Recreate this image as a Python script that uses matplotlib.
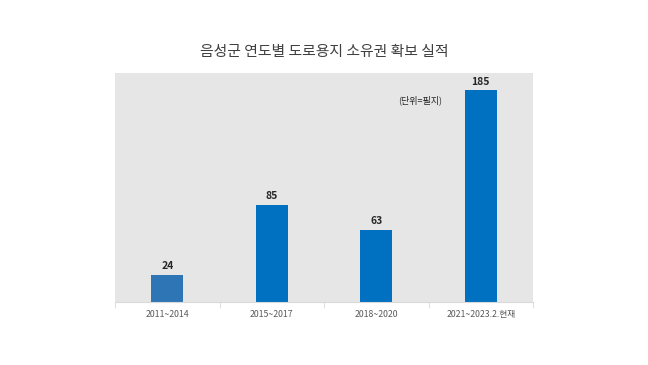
import matplotlib
matplotlib.use('Agg')
import matplotlib.pyplot as plt

plt.rcParams['font.family'] = ['Noto Sans CJK KR', 'DejaVu Sans']

# Data
periods = ['2011~2014', '2015~2017', '2018~2020', '2021~2023.2.현재']
parcels = [24, 85, 63, 185]
bar_colors = ['#2E75B6', '#0070C0', '#0070C0', '#0070C0']

title = '음성군 연도별 도로용지 소유권 확보 실적'
unit_note = '(단위=필지)'

fig = plt.figure(figsize=(6.48, 3.65), dpi=100)
fig.patch.set_facecolor('white')
ax = fig.add_axes([115 / 648, 1 - 302 / 365, 418 / 648, 229 / 365])
ax.set_facecolor('#E7E6E6')

x = range(len(periods))
bars = ax.bar(x, parcels, width=0.31, color=bar_colors, zorder=2)
# value labels above each bar
for b, v in zip(bars, parcels):
    ax.text(b.get_x() + b.get_width() / 2, v + 3, str(v), ha='center', va='bottom',
            fontsize=7.5, fontweight='semibold', color='#262626')

ax.set_xlim(-0.5, len(periods) - 0.5)
ax.set_ylim(0, 200)
ax.set_yticks([])
ax.set_xticks(list(x))
ax.set_xticklabels(periods, fontsize=6.3, color='#595959')
ax.tick_params(axis='x', length=0, pad=6)
# separator ticks between categories
ax.set_xticks([i - 0.5 for i in range(len(periods) + 1)], minor=True)
ax.tick_params(axis='x', which='minor', length=4, color='#D9D9D9', direction='out')

for s in ['top', 'right', 'left']:
    ax.spines[s].set_visible(False)
ax.spines['bottom'].set_color('#D9D9D9')

ax.text(2.42, 176, unit_note, fontsize=6.5, color='#262626', ha='center', va='center')

fig.text(0.5, 1 - 52 / 365, title, ha='center', va='center', fontsize=10.7, color='#404040')

fig.savefig('out.png', dpi=100)
